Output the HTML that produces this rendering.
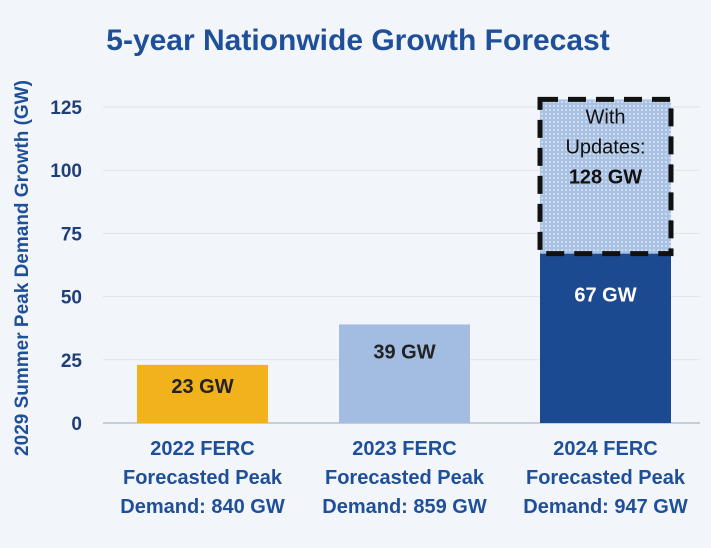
<!DOCTYPE html>
<html><head><meta charset="utf-8">
<style>
html,body{margin:0;padding:0;background:#f2f6fa;}
svg{display:block;font-family:"Liberation Sans",sans-serif;}
</style></head>
<body>
<svg id="chart" width="711" height="548" viewBox="0 0 711 548">
<defs>
<pattern id="dots" width="4" height="4" patternUnits="userSpaceOnUse">
<rect width="4" height="4" fill="#a9c1e2"/>
<circle cx="2" cy="2" r="0.9" fill="#e6eef8"/>
</pattern>
</defs>
<text x="358" y="50" text-anchor="middle" font-size="30" font-weight="bold" fill="#1f4f99">5-year Nationwide Growth Forecast</text>
<text transform="translate(28,268) rotate(-90)" text-anchor="middle" font-size="19" font-weight="bold" fill="#1f4f99">2029 Summer Peak Demand Growth (GW)</text>
<g id="grid"></g>
<g id="bars"></g>
</svg>
<script>
const categories = [["2022 FERC","Forecasted Peak","Demand: 840 GW"],["2023 FERC","Forecasted Peak","Demand: 859 GW"],["2024 FERC","Forecasted Peak","Demand: 947 GW"]];
const baseValues = [23, 39, 67];
const baseLabels = ["23 GW","39 GW","67 GW"];
const updateValues = [null, null, 128];
const yTicks = [0, 25, 50, 75, 100, 125];
const colors = ["#f2b21c","#a3bde2","#1c4a91"];
const labelColors = ["#222","#222","#fff"];

const NS="http://www.w3.org/2000/svg";
const y0=423, pxPer=(423-107)/125;
function y(v){return y0-v*pxPer;}
const barX=[137,339,540], barW=131;
const labelOffsets=[28,34,48];
function mk(tag,attrs,parent){const e=document.createElementNS(NS,tag);for(const k in attrs)e.setAttribute(k,attrs[k]);parent.appendChild(e);return e;}
const grid=document.getElementById('grid'), bars=document.getElementById('bars');
yTicks.forEach(t=>{
  const l=mk('line',{x1:103,x2:700,y1:y(t),y2:y(t),stroke:t===0?'#c8ced6':'#dfe3e8','stroke-width':t===0?2:1},grid);
  
  
  const tx=mk('text',{x:82,y:y(t)+7,'text-anchor':'end','font-size':19,'font-weight':'bold',fill:'#1f3f7a'},grid);
  tx.textContent=t;
  
  
});
categories.forEach((c,i)=>{
  const cx=barX[i]+barW/2;
  if(updateValues[i]!=null){
    const u=mk('rect',{x:barX[i],y:y(updateValues[i]),width:barW,height:y(baseValues[i])-y(updateValues[i]),fill:'url(#dots)'},bars);
    
    
  }
  const r=mk('rect',{x:barX[i],y:y(baseValues[i]),width:barW,height:y0-y(baseValues[i]),fill:colors[i]},bars);
  
  
  const vl=mk('text',{x:cx,y:y(baseValues[i])+labelOffsets[i],'text-anchor':'middle','font-size':20,'font-weight':'bold',fill:labelColors[i]},bars);
  vl.textContent=baseLabels[i];
  
  
  if(updateValues[i]!=null){
    const b=mk('rect',{x:barX[i],y:y(updateValues[i]),width:barW,height:y(baseValues[i])-y(updateValues[i]),fill:'none',stroke:'#111','stroke-width':5,'stroke-dasharray':'18,10'},bars);
    
    
    const lines=[["With","normal"],["Updates:","normal"],[updateValues[i]+" GW","bold"]];
    lines.forEach((ln,j)=>{
      const t=mk('text',{x:cx,y:y(updateValues[i])+24+j*30,'text-anchor':'middle','font-size':20,'font-weight':ln[1],fill:'#111'},bars);
      t.textContent=ln[0];
      
      
    });
  }
  c.forEach((ln,j)=>{
    const t=mk('text',{x:cx,y:455+j*29,'text-anchor':'middle','font-size':20,'font-weight':'bold',fill:'#1f4f99'},bars);
    t.textContent=ln;
    
    
  });
});
</script>
</body></html>
